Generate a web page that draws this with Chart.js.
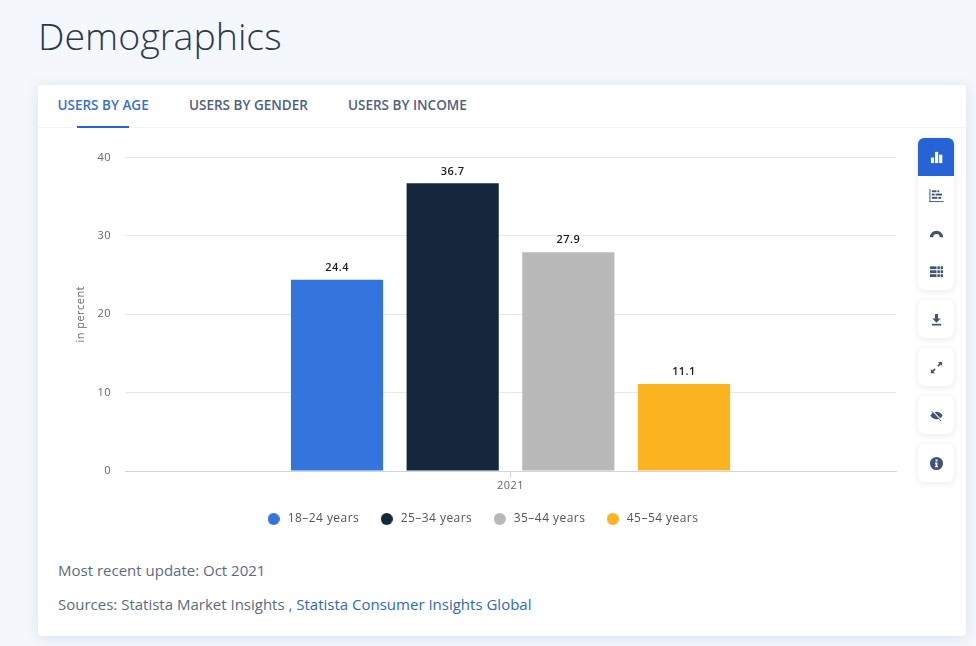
<!DOCTYPE html>
<html>
<head>
<meta charset="utf-8">
<title>Demographics</title>
<script src="https://cdn.jsdelivr.net/npm/chart.js@4"></script>
<style>
html, body { margin: 0; padding: 0; }
body {
    width: 976px; height: 646px; overflow: hidden; position: relative;
    background: #f4f8fc;
    font-family: "Open Sans", sans-serif;
}
h1 {
    position: absolute; left: 38px; top: 10px; margin: 0;
    font-family: "Open Sans Light", "Open Sans", sans-serif;
    font-size: 37.5px; line-height: 52px; font-weight: 300; color: #2a3a52;
}
.card {
    position: absolute; left: 38px; top: 85px; width: 928px; height: 551px;
    background: #fff; border-radius: 4px;
    box-shadow: 0 2px 14px rgba(70, 95, 140, 0.14);
}
.tabs {
    position: absolute; left: 0; top: 0; right: 0; height: 42px;
    border-bottom: 1px solid #f1f3f6;
}
.tab {
    position: absolute; top: 10.5px; font-size: 13.5px; line-height: 19px;
    font-weight: 600; color: #4f627c; white-space: nowrap;
}
.tab.on { color: #3570d4; }
.underline {
    position: absolute; left: 39px; top: 41px; width: 52px; height: 2px; background: #2563d6;
}
canvas#chart { position: absolute; left: 38px; top: 128px; }
.note {
    position: absolute; left: 20px; font-size: 15px; line-height: 20px;
    color: #5b6b80; white-space: nowrap;
}
.note span { color: #2f68c0; }
.btns {
    position: absolute; left: 918px; width: 36px; background: #fff; border-radius: 6px;
    box-shadow: 0 1px 6px rgba(70, 95, 140, 0.14);
}
.btn { width: 36px; height: 38px; display: flex; align-items: center; justify-content: center; }
.btn.on { background: #2563d6; border-radius: 6px 6px 0 0; }
.btn svg { width: 15px; height: 15px; fill: #3f5573; }
.btn.on svg { fill: #fff; }
</style>
</head>
<body>
<h1>Demographics</h1>
<div class="card">
    <div class="tabs">
        <div class="tab on" style="left:19.5px">USERS BY AGE</div>
        <div class="tab" style="left:151px">USERS BY GENDER</div>
        <div class="tab" style="left:310px">USERS BY INCOME</div>
        <div class="underline"></div>
    </div>
    <div class="note" style="top:475px">Most recent update: Oct 2021</div>
    <div class="note" style="top:509px">Sources: Statista Market Insights , <span>Statista Consumer Insights Global</span></div>
</div>
<canvas id="chart" width="880" height="410" style="width:880px;height:410px"></canvas>

<div class="btns" style="top:138px">
    <div class="btn on"><svg viewBox="0 0 16 16"><rect x="2" y="8" width="3.4" height="6"/><rect x="6.4" y="2" width="3.4" height="12"/><rect x="10.8" y="5" width="3.4" height="9"/></svg></div>
    <div class="btn"><svg viewBox="0 0 16 16"><rect x="0.5" y="1" width="1" height="14"/><rect x="0.5" y="14" width="15" height="1"/><rect x="3" y="2.5" width="5" height="2"/><rect x="9" y="2.5" width="2" height="2"/><rect x="3" y="6" width="3" height="2"/><rect x="7" y="6" width="7" height="2"/><rect x="3" y="9.5" width="6" height="2"/><rect x="10" y="9.5" width="3" height="2"/></svg></div>
    <div class="btn"><svg viewBox="0 0 16 16"><path d="M1 12a7 7 0 0 1 14 0h-3.6a3.4 3.4 0 0 0-6.8 0z"/></svg></div>
    <div class="btn"><svg viewBox="0 0 16 16"><rect x="1" y="2.500" width="7" height="3"/><rect x="1" y="6.700" width="7" height="3"/><rect x="1" y="10.900" width="7" height="3"/><rect x="9" y="2.500" width="2.600" height="3"/><rect x="12.400" y="2.500" width="2.600" height="3"/><rect x="9" y="6.700" width="2.600" height="3"/><rect x="12.400" y="6.700" width="2.600" height="3"/><rect x="9" y="10.900" width="2.600" height="3"/><rect x="12.400" y="10.900" width="2.600" height="3"/></svg></div>
</div>
<div class="btns" style="top:300px"><div class="btn"><svg viewBox="0 0 16 16"><path d="M6.400 2h3.200v5h2.900L8 11.400 3.500 7h2.900z"/><rect x="3" y="12.600" width="10" height="1.800"/></svg></div></div>
<div class="btns" style="top:348px"><div class="btn"><svg viewBox="0 0 16 16"><path d="M9.500 2H14v4.500l-1.600-1.600-2.200 2.200-1.300-1.300 2.200-2.200zM6.500 14H2V9.500l1.600 1.600 2.200-2.200 1.300 1.300-2.200 2.200z"/></svg></div></div>
<div class="btns" style="top:396px"><div class="btn"><svg viewBox="0 0 16 16"><path d="M1.500 8c1.500-2.700 3.800-4 6.500-4s5 1.300 6.500 4c-1.500 2.700-3.800 4-6.500 4s-5-1.300-6.500-4z"/><path d="M3 2.500l10.500 11" stroke="#fff" stroke-width="1.500"/><path d="M2.500 3l10.500 11" stroke="#3f5573" stroke-width="1"/></svg></div></div>
<div class="btns" style="top:444px"><div class="btn"><svg viewBox="0 0 16 16"><path fill-rule="evenodd" d="M8 1a7 7 0 1 1 0 14A7 7 0 0 1 8 1zM7 3.800v2h2v-2zM6.500 7v1.300H7v2.500h-.6V12h3.200v-1.200H9V7z"/></svg></div></div>

<script>
// values
const years = ['2021'];
const ageGroups = ['18–24 years', '25–34 years', '35–44 years', '45–54 years'];
const shares = [24.4, 36.7, 27.9, 11.1];
const barColors = ['#3474dd', '#14273d', '#b9b9b9', '#fbb31f'];
const yTicks = [0, 10, 20, 30, 40];

const chartFont = '"Open Sans", sans-serif';

// the reference text is slightly spaced out, chart.js has no option for it
const textSpacing = {
    id: 'textSpacing',
    beforeUpdate(chart) { chart.ctx.letterSpacing = '0.45px'; },
    beforeDraw(chart) { chart.ctx.letterSpacing = '0.45px'; }
};

// value labels above the bars
const barLabels = {
    id: 'barLabels',
    afterDatasetsDraw(chart) {
        const ctx = chart.ctx;
        ctx.save();
        ctx.font = '600 11px ' + chartFont;
        ctx.fillStyle = '#1c1c1c';
        ctx.textAlign = 'center';
        ctx.textBaseline = 'middle';
        chart.data.datasets.forEach((ds, i) => {
            const bar = chart.getDatasetMeta(i).data[0];
            ctx.fillText(ds.data[0].toFixed(1), bar.x, bar.y - 12);
        });
        ctx.restore();
    }
};

// pointStyleWidth stretches the circle, so the legend marker is a small canvas
function legendDot(color) {
    const dot = document.createElement('canvas');
    dot.width = 12;
    dot.height = 12;
    const ctx = dot.getContext('2d');
    ctx.fillStyle = color;
    ctx.arc(6, 6, 6, 0, Math.PI * 2);
    ctx.fill();
    return dot;
}

new Chart(document.getElementById('chart').getContext('2d'), {
    type: 'bar',
    data: {
        labels: years,
        datasets: ageGroups.map((name, i) => ({
            label: name,
            data: [shares[i]],
            backgroundColor: barColors[i],
            categoryPercentage: 0.6,
            barPercentage: 0.797
        }))
    },
    options: {
        responsive: false,
        animation: false,
        layout: { padding: { top: 29.5, right: 22, bottom: 3, left: 30 } },
        plugins: {
            tooltip: { enabled: false },
            legend: {
                position: 'bottom',
                onClick: null,
                labels: {
                    usePointStyle: true,
                    pointStyleWidth: 16,
                    boxHeight: 12,
                    padding: 19.5,
                    color: '#555',
                    font: { family: chartFont, size: 12 },
                    generateLabels(chart) {
                        const items = Chart.defaults.plugins.legend.labels.generateLabels(chart);
                        items.forEach((item, i) => { item.pointStyle = legendDot(barColors[i]); });
                        return items;
                    }
                }
            }
        },
        scales: {
            x: {
                afterFit(scale) { scale.height = 22.5; },
                border: { color: '#ccd6eb' },
                grid: { offset: false, drawOnChartArea: false, color: '#ccd6eb', tickLength: 7 },
                ticks: { color: '#666', padding: 1.5, font: { family: chartFont, size: 11 } }
            },
            y: {
                min: 0,
                max: 40,
                afterFit(scale) { scale.width = 57; },
                afterBuildTicks(scale) { scale.ticks = yTicks.map(v => ({ value: v })); },
                border: { display: false },
                grid: { color: '#e6e9ee', drawTicks: false },
                title: { display: true, text: 'in percent', color: '#666', padding: { top: 6, bottom: 0 }, font: { family: chartFont, size: 11 } },
                ticks: { color: '#666', padding: 14, font: { family: chartFont, size: 11 } }
            }
        }
    },
    plugins: [textSpacing, barLabels]
});
</script>
</body>
</html>
